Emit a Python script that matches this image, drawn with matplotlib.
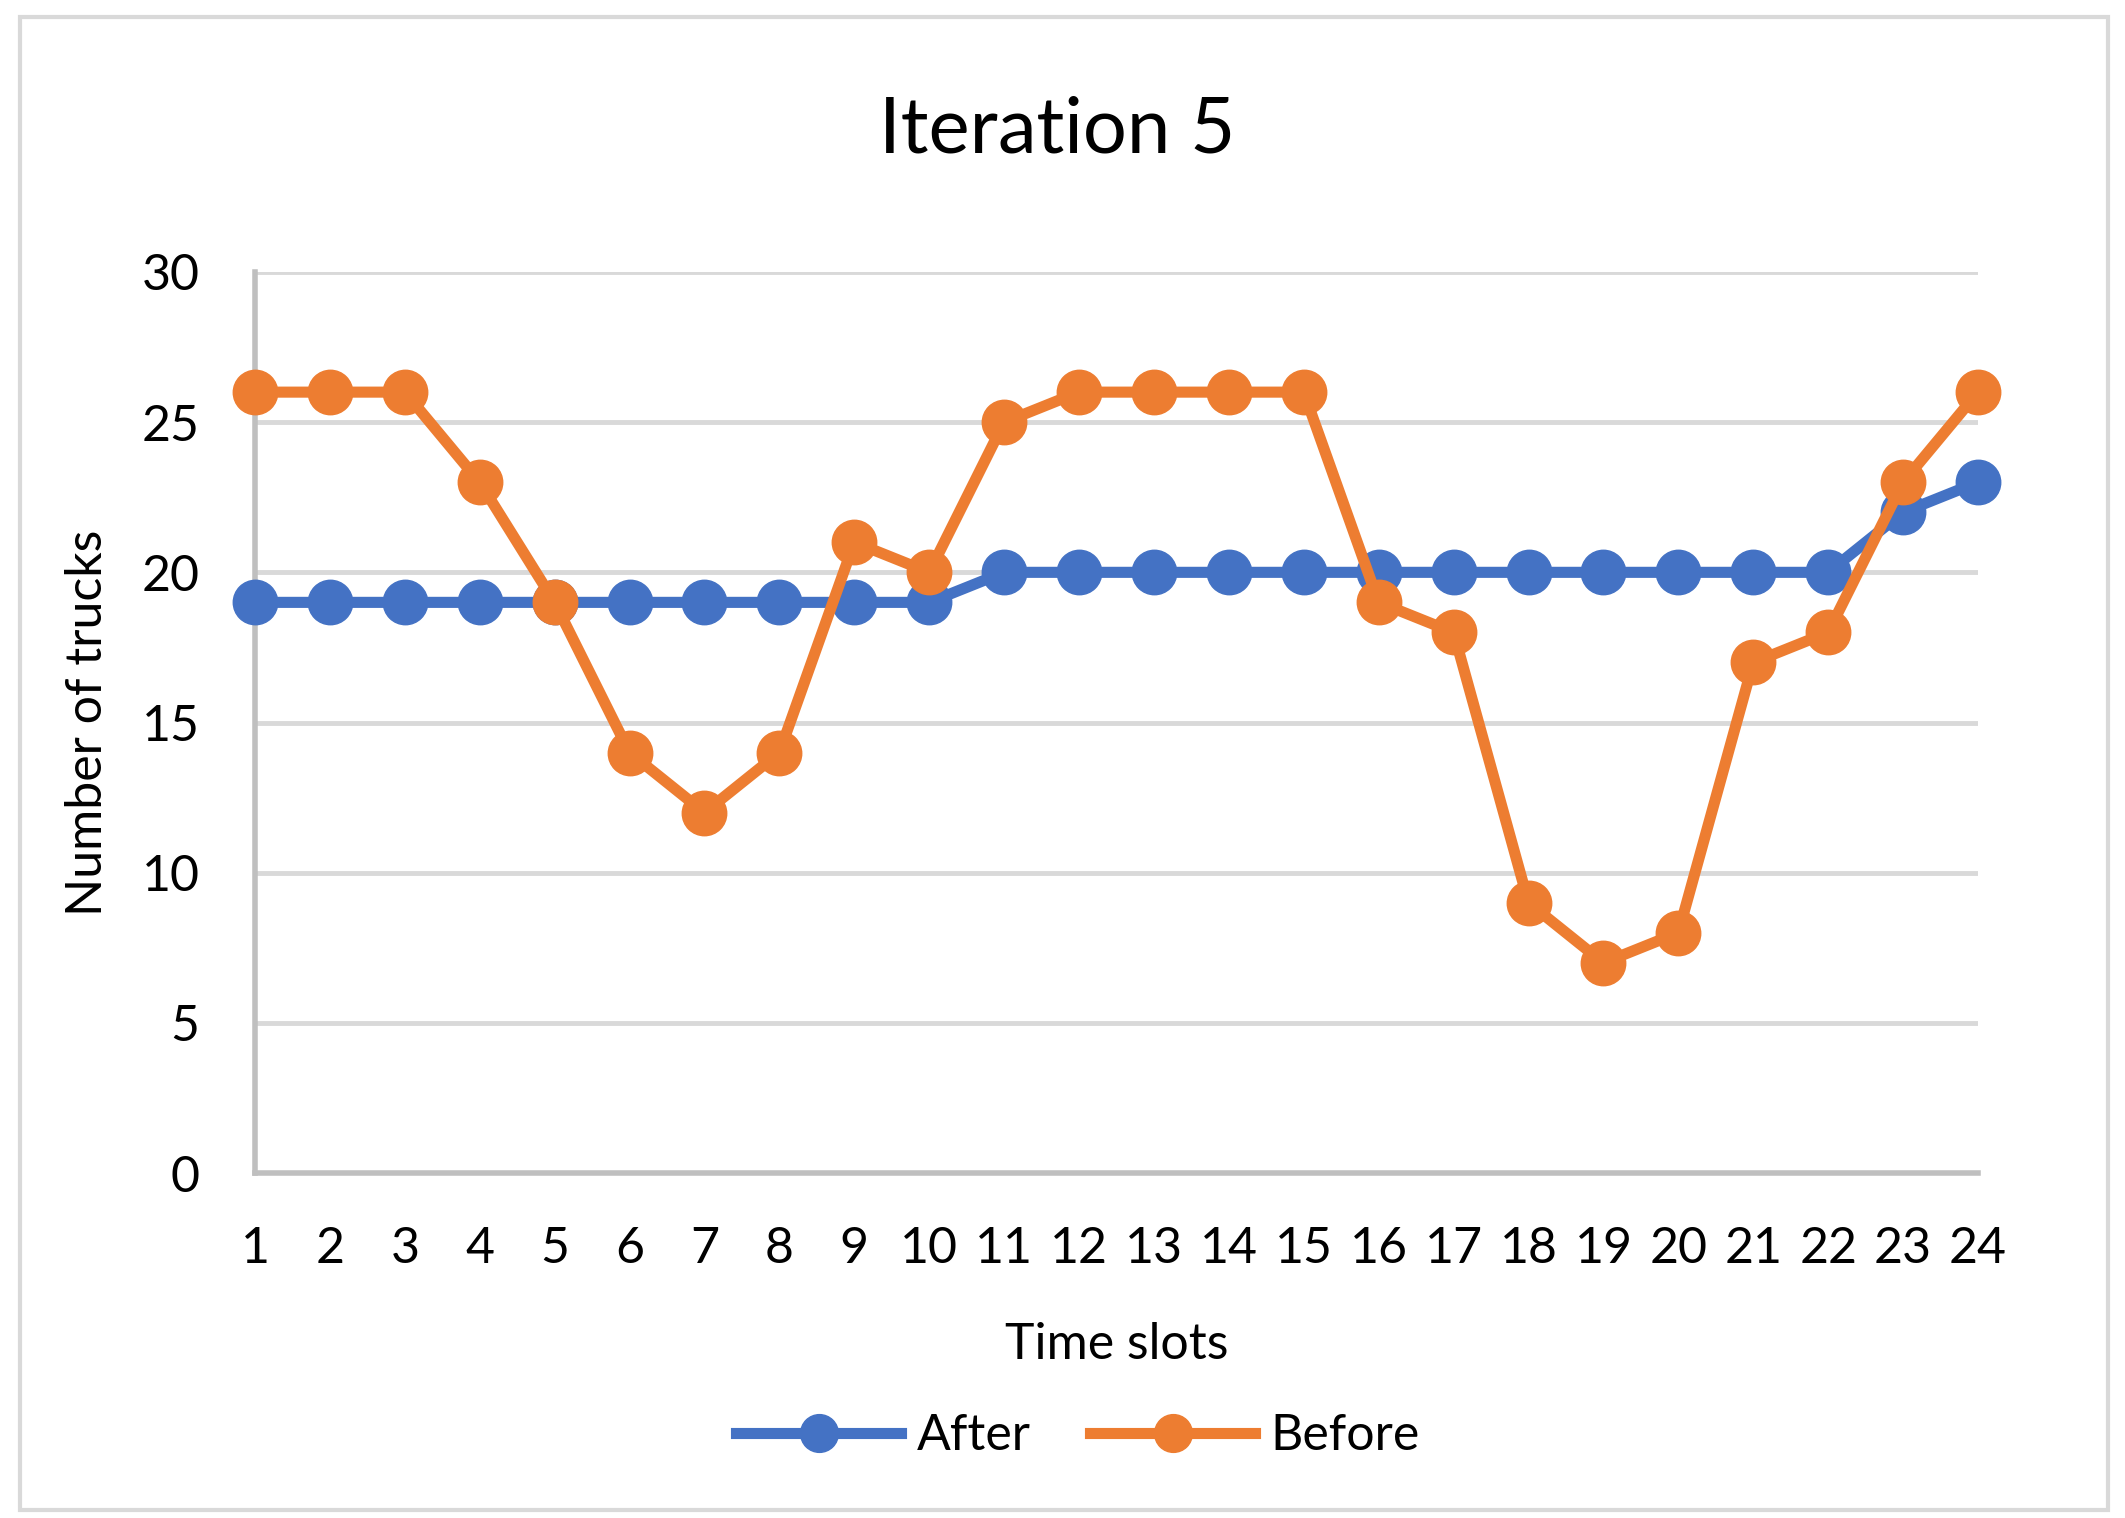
import matplotlib.pyplot as plt
from matplotlib.patches import Rectangle

plt.rcParams['font.family'] = ['Lato', 'DejaVu Sans']

time_slots = list(range(1, 25))
after = [19, 19, 19, 19, 19, 19, 19, 19, 19, 19, 20, 20, 20, 20, 20, 20, 20, 20, 20, 20, 20, 20, 22, 23]
before = [26, 26, 26, 23, 19, 14, 12, 14, 21, 20, 25, 26, 26, 26, 26, 19, 18, 9, 7, 8, 17, 18, 23, 26]
y_ticks = [0, 5, 10, 15, 20, 25, 30]

W, H = 2125, 1518
fig = plt.figure(figsize=(W / 100, H / 100), dpi=100)
ax = fig.add_axes([255 / W, 1 - 1173 / H, (1978 - 255) / W, (1173 - 272) / H])

# outer chart border
fig.patches.append(Rectangle((20 / W, 1 - 1510 / H), (2108 - 20) / W, (1510 - 17) / H,
                             transform=fig.transFigure, fill=False,
                             edgecolor='#D9D9D9', linewidth=3))

series = [
    (after, '#4472C4', 'After'),
    (before, '#ED7D31', 'Before'),
]
for values, color, label in series:
    ax.plot(time_slots, values, '-o', color=color, label=label,
            linewidth=8, markersize=32, clip_on=False, zorder=3)

ax.set_xlim(1, 24)
ax.set_ylim(0, 30)
ax.set_xticks(time_slots)
ax.set_yticks(y_ticks)
ax.tick_params(length=0, labelsize=36, colors='black')
ax.tick_params(axis='y', pad=40)
ax.tick_params(axis='x', pad=38)
ax.grid(axis='y', color='#D9D9D9', linewidth=3.5)
ax.set_axisbelow(True)
for side in ['top', 'right']:
    ax.spines[side].set_visible(False)
for side in ['left', 'bottom']:
    ax.spines[side].set_color('#BFBFBF')
    ax.spines[side].set_linewidth(4)

ax.set_xlabel('Time slots', fontsize=36, labelpad=36)
ax.set_ylabel('Number of trucks', fontsize=36, labelpad=22)
fig.text(1057 / W, 1 - 131 / H, 'Iteration 5', fontsize=56, ha='center', va='center')

fig.legend(loc='center', bbox_to_anchor=(1078 / W, 1 - 1436 / H), ncol=2,
           frameon=False, fontsize=36, handlelength=3.3, handletextpad=0.3,
           columnspacing=1.2, markerscale=0.85)

fig.savefig('out.png', dpi=100)
